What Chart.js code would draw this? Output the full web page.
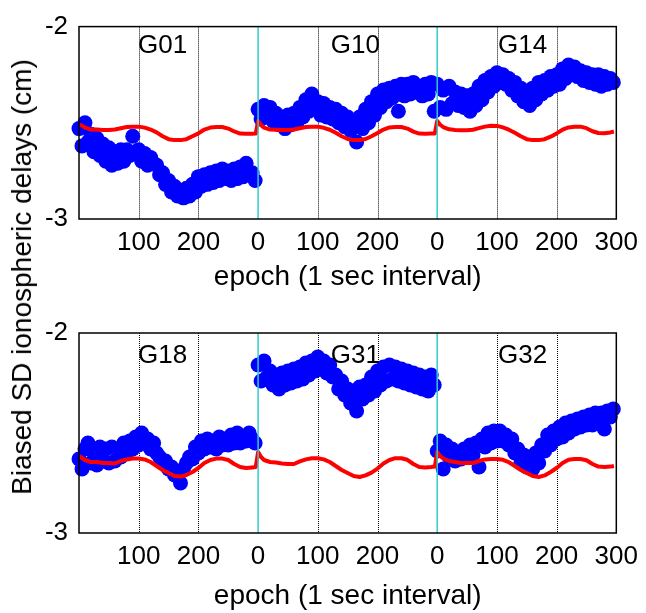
<!DOCTYPE html>
<html>
<head>
<meta charset="utf-8">
<script src="https://cdn.jsdelivr.net/npm/chart.js@4"></script>
<style>
  body { margin: 0; background: #fff; }
  #wrap { position: relative; width: 646px; height: 613px; }
  canvas { position: absolute; left: 0; }
  #ytitle {
    position: absolute; left: 22px; top: 277px;
    transform: translate(-50%, -50%) rotate(-90deg);
    white-space: nowrap; font: 28px "Liberation Sans", Arial, sans-serif; color: #000;
  }
</style>
</head>
<body>
<div id="wrap">
  <canvas id="top" width="646" height="294" style="top:0"></canvas>
  <canvas id="bottom" width="646" height="319" style="top:294px"></canvas>
  <div id="ytitle">Biased SD ionospheric delays (cm)</div>
</div>
<script>
// epochs inside one 300 s arc
const blueEpochs = [0,5,10,15,20,25,30,35,40,45,50,55,60,65,70,75,80,85,90,95,
  100,105,110,115,120,125,130,135,140,145,150,155,160,165,170,175,180,185,190,195,
  200,205,210,215,220,225,230,235,240,245,250,255,260,265,270,275,280,285,290,295];
const redEpochs = [0,5,10,20,30,40,50,60,70,80,90,100,110,120,130,140,150,160,170,180,
  190,200,210,220,230,240,250,260,270,280,290,296];

const satsTop = ['G01', 'G10', 'G14'];
const satsBottom = ['G18', 'G31', 'G32'];

const xTicks = [0, 100, 200, 300, 400, 500, 600, 700, 800, 900];
const xTickLabels = ['', '100', '200', '0', '100', '200', '0', '100', '200', '300'];
const yTicks = [-3, -2];

// blue: biased SD ionospheric delays
const blueG01 = [-2.53,-2.62,-2.50,-2.60,-2.56,-2.65,-2.58,-2.67,-2.61,-2.70,
  -2.63,-2.72,-2.65,-2.71,-2.64,-2.70,-2.64,-2.67,-2.57,-2.65,
  -2.64,-2.70,-2.66,-2.72,-2.68,-2.71,-2.72,-2.77,-2.76,-2.82,
  -2.80,-2.86,-2.83,-2.88,-2.85,-2.89,-2.84,-2.88,-2.82,-2.86,
  -2.78,-2.83,-2.77,-2.82,-2.76,-2.81,-2.75,-2.80,-2.74,-2.79,
  -2.75,-2.80,-2.74,-2.79,-2.73,-2.78,-2.71,-2.77,-2.76,-2.80];
const blueG10 = [-2.43,-2.48,-2.41,-2.47,-2.42,-2.49,-2.45,-2.51,-2.47,-2.53,
  -2.46,-2.51,-2.45,-2.50,-2.42,-2.47,-2.38,-2.44,-2.35,-2.42,
  -2.39,-2.46,-2.40,-2.47,-2.42,-2.48,-2.43,-2.50,-2.45,-2.52,
  -2.47,-2.54,-2.49,-2.60,-2.47,-2.53,-2.43,-2.50,-2.39,-2.46,
  -2.35,-2.42,-2.33,-2.39,-2.32,-2.37,-2.31,-2.44,-2.30,-2.36,
  -2.30,-2.35,-2.29,-2.34,-2.31,-2.36,-2.30,-2.35,-2.29,-2.44];
const blueG14 = [-2.30,-2.42,-2.33,-2.43,-2.31,-2.40,-2.34,-2.41,-2.35,-2.42,
  -2.36,-2.44,-2.35,-2.41,-2.31,-2.38,-2.28,-2.34,-2.26,-2.31,
  -2.24,-2.29,-2.25,-2.30,-2.27,-2.33,-2.29,-2.36,-2.32,-2.39,
  -2.34,-2.41,-2.32,-2.38,-2.29,-2.35,-2.28,-2.33,-2.26,-2.31,
  -2.25,-2.30,-2.22,-2.27,-2.20,-2.25,-2.21,-2.26,-2.23,-2.28,
  -2.24,-2.29,-2.25,-2.30,-2.25,-2.31,-2.26,-2.30,-2.27,-2.29];
const blueG18 = [-2.63,-2.68,-2.58,-2.55,-2.65,-2.60,-2.66,-2.57,-2.64,-2.58,
  -2.65,-2.57,-2.64,-2.58,-2.62,-2.55,-2.60,-2.54,-2.58,-2.52,
  -2.56,-2.50,-2.55,-2.53,-2.58,-2.55,-2.60,-2.62,-2.65,-2.64,
  -2.68,-2.67,-2.71,-2.70,-2.75,-2.68,-2.65,-2.62,-2.63,-2.57,
  -2.60,-2.54,-2.58,-2.53,-2.57,-2.54,-2.58,-2.52,-2.56,-2.53,
  -2.56,-2.51,-2.55,-2.50,-2.55,-2.52,-2.54,-2.50,-2.53,-2.55];
const blueG31 = [-2.16,-2.24,-2.14,-2.22,-2.19,-2.26,-2.21,-2.28,-2.20,-2.26,
  -2.19,-2.25,-2.18,-2.24,-2.17,-2.23,-2.15,-2.21,-2.14,-2.19,
  -2.12,-2.18,-2.14,-2.20,-2.16,-2.22,-2.21,-2.28,-2.24,-2.31,
  -2.28,-2.35,-2.29,-2.39,-2.27,-2.33,-2.26,-2.31,-2.22,-2.29,
  -2.19,-2.26,-2.17,-2.24,-2.16,-2.23,-2.17,-2.24,-2.18,-2.25,
  -2.19,-2.26,-2.20,-2.27,-2.21,-2.28,-2.22,-2.29,-2.21,-2.26];
const blueG32 = [-2.59,-2.54,-2.68,-2.56,-2.62,-2.58,-2.64,-2.60,-2.63,-2.58,
  -2.62,-2.56,-2.61,-2.55,-2.67,-2.53,-2.57,-2.50,-2.55,-2.49,
  -2.54,-2.49,-2.54,-2.51,-2.56,-2.53,-2.60,-2.58,-2.65,-2.61,
  -2.67,-2.62,-2.68,-2.60,-2.65,-2.56,-2.59,-2.51,-2.56,-2.49,
  -2.53,-2.47,-2.52,-2.45,-2.50,-2.44,-2.48,-2.43,-2.47,-2.42,
  -2.46,-2.41,-2.46,-2.40,-2.45,-2.40,-2.48,-2.39,-2.42,-2.38];

// red: reference curve
const redG01 = [-2.51,-2.515,-2.525,-2.535,-2.535,-2.538,-2.538,-2.535,-2.528,-2.522,
  -2.52,-2.52,-2.525,-2.535,-2.55,-2.57,-2.585,-2.59,-2.59,-2.585,
  -2.57,-2.555,-2.535,-2.525,-2.522,-2.522,-2.53,-2.545,-2.556,-2.557,-2.557,-2.556];
const redG10 = [-2.49,-2.512,-2.525,-2.535,-2.536,-2.538,-2.537,-2.535,-2.528,-2.522,
  -2.52,-2.52,-2.526,-2.536,-2.552,-2.57,-2.584,-2.59,-2.59,-2.584,
  -2.57,-2.553,-2.535,-2.524,-2.522,-2.522,-2.53,-2.546,-2.556,-2.557,-2.556,-2.555];
const redG14 = [-2.49,-2.51,-2.522,-2.534,-2.537,-2.539,-2.539,-2.536,-2.528,-2.52,
  -2.515,-2.516,-2.524,-2.536,-2.552,-2.57,-2.585,-2.59,-2.59,-2.585,
  -2.572,-2.555,-2.536,-2.524,-2.52,-2.52,-2.528,-2.544,-2.553,-2.554,-2.55,-2.545];
const redG18 = [-2.615,-2.625,-2.635,-2.645,-2.645,-2.65,-2.65,-2.652,-2.64,-2.632,
  -2.628,-2.628,-2.632,-2.645,-2.665,-2.685,-2.70,-2.715,-2.718,-2.71,
  -2.695,-2.675,-2.65,-2.635,-2.628,-2.628,-2.635,-2.655,-2.67,-2.675,-2.672,-2.67];
const redG31 = [-2.595,-2.62,-2.635,-2.645,-2.648,-2.652,-2.655,-2.655,-2.642,-2.632,
  -2.626,-2.626,-2.632,-2.645,-2.665,-2.685,-2.70,-2.715,-2.72,-2.712,
  -2.698,-2.678,-2.652,-2.635,-2.626,-2.626,-2.634,-2.655,-2.67,-2.672,-2.67,-2.668];
const redG32 = [-2.595,-2.615,-2.628,-2.64,-2.645,-2.65,-2.65,-2.65,-2.64,-2.632,
  -2.63,-2.63,-2.634,-2.646,-2.665,-2.685,-2.70,-2.715,-2.72,-2.712,
  -2.695,-2.675,-2.65,-2.634,-2.63,-2.63,-2.636,-2.655,-2.668,-2.67,-2.668,-2.665];

// label placement (epoch on the joined axis)
const satLabelX = [140, 463, 743];

Chart.defaults.font.family = '"Liberation Sans", Arial, sans-serif';
Chart.defaults.color = '#000';

function joinArcs(epochs, arcs) {
  const pts = [];
  arcs.forEach((vals, k) => {
    vals.forEach((v, i) => pts.push({ x: epochs[i] + 300 * k, y: v }));
  });
  return pts;
}

function framePlugin(labels, labelY) {
  return {
    id: 'frame',
    beforeDatasetsDraw(chart) {
      const { ctx, chartArea: a, scales: { x } } = chart;
      ctx.save();
      ctx.strokeStyle = '#000';
      ctx.lineWidth = 1;
      ctx.setLineDash([1, 1]);
      [100, 200, 400, 500, 700, 800].forEach(v => {
        const px = Math.round(x.getPixelForValue(v)) + 0.5;
        ctx.beginPath(); ctx.moveTo(px, a.top); ctx.lineTo(px, a.bottom); ctx.stroke();
      });
      ctx.restore();
    },
    afterDatasetsDraw(chart) {
      const { ctx, chartArea: a, scales: { x, y } } = chart;
      ctx.save();
      ctx.strokeStyle = '#33CCCC';
      ctx.lineWidth = 1.5;
      [300, 600].forEach(v => {
        const px = x.getPixelForValue(v);
        ctx.beginPath(); ctx.moveTo(px, a.top); ctx.lineTo(px, a.bottom); ctx.stroke();
      });
      ctx.strokeStyle = '#000';
      ctx.lineWidth = 1.5;
      ctx.strokeRect(a.left, a.top, a.right - a.left, a.bottom - a.top);
      ctx.fillStyle = '#000';
      ctx.font = '26px "Liberation Sans", Arial, sans-serif';
      ctx.textAlign = 'center';
      ctx.textBaseline = 'middle';
      labels.forEach((t, i) => {
        ctx.fillText(t, x.getPixelForValue(satLabelX[i]), y.getPixelForValue(labelY));
      });
      ctx.restore();
    }
  };
}

function makePanel(id, blueArcs, redArcs, labels, labelY, padTop, axisH) {
  new Chart(document.getElementById(id), {
    type: 'scatter',
    data: {
      datasets: [
        {
          type: 'line',
          data: joinArcs(redEpochs, redArcs),
          borderColor: '#FF0000',
          borderWidth: 4,
          pointRadius: 0,
          tension: 0,
          borderJoinStyle: 'round',
          fill: false
        },
        {
          data: joinArcs(blueEpochs, blueArcs),
          backgroundColor: '#0000FF',
          borderColor: '#0000FF',
          borderWidth: 0,
          pointRadius: 7.5,
          clip: false
        }
      ]
    },
    options: {
      responsive: false,
      animation: false,
      events: [],
      layout: { padding: { top: padTop, right: 27, left: 0, bottom: 0 } },
      plugins: { legend: { display: false }, tooltip: { enabled: false } },
      scales: {
        x: {
          type: 'linear', min: 0, max: 900,
          afterBuildTicks: s => { s.ticks = xTicks.map(v => ({ value: v })); },
          afterFit: s => { s.height = axisH; },
          grid: { display: false, drawTicks: false },
          border: { display: false },
          ticks: {
            padding: 8, maxRotation: 0, autoSkip: false,
            font: { size: 26 },
            callback: (v, i) => xTickLabels[i]
          },
          title: { display: true, text: 'epoch (1 sec interval)', font: { size: 28 }, padding: 0 }
        },
        y: {
          type: 'linear', min: -3, max: -2,
          afterBuildTicks: s => { s.ticks = yTicks.map(v => ({ value: v })); },
          afterFit: s => { s.width = 79; },
          grid: { display: false, drawTicks: false },
          border: { display: false },
          ticks: { padding: 11, font: { size: 26 }, callback: v => String(v) }
        }
      }
    },
    plugins: [framePlugin(labels, labelY)]
  });
}

makePanel('top', [blueG01, blueG10, blueG14], [redG01, redG10, redG14], satsTop, -2.1, 20, 75);
makePanel('bottom', [blueG18, blueG31, blueG32], [redG18, redG31, redG32], satsBottom, -2.115, 39, 80);
</script>
</body>
</html>
